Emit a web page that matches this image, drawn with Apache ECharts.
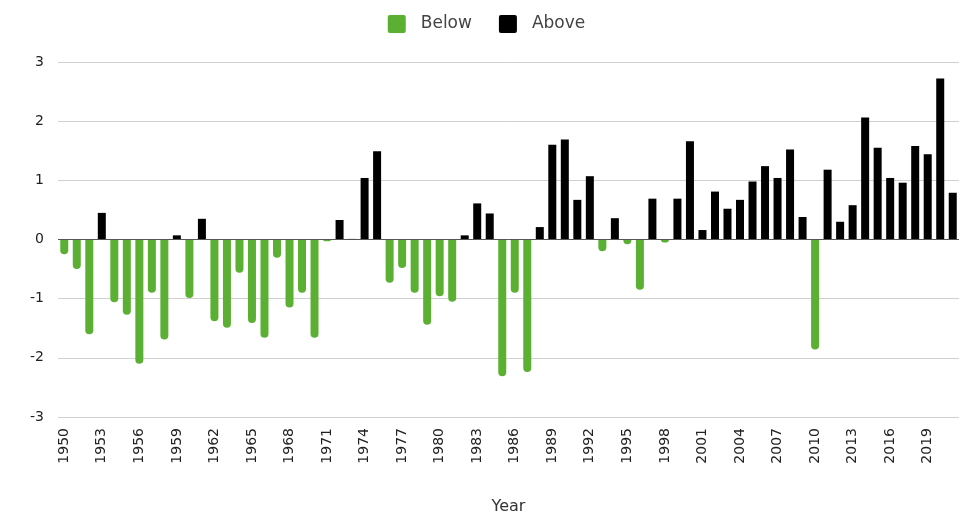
<!DOCTYPE html>
<html>
<head>
<meta charset="utf-8">
<script src="https://cdn.jsdelivr.net/npm/echarts@6/dist/echarts.min.js"></script>
<style>html,body{margin:0;padding:0;background:#fff}#c{width:973px;height:520px}</style>
</head>
<body>
<div id="c"></div>
<script>
var years = [];
for (var y = 1950; y <= 2021; y++) years.push(String(y));
var values = [
-0.25,-0.5,-1.6,0.45,-1.06,-1.27,-2.1,-0.9,-1.69,0.07,
-0.99,0.35,-1.38,-1.49,-0.56,-1.41,-1.66,-0.31,-1.15,-0.9,
-1.66,-0.03,0.33,0.01,1.04,1.49,-0.73,-0.48,-0.9,-1.44,
-0.96,-1.05,0.07,0.61,0.44,-2.31,-0.9,-2.24,0.21,1.6,
1.69,0.67,1.07,-0.2,0.36,-0.08,-0.85,0.69,-0.05,0.69,
1.66,0.16,0.81,0.52,0.67,0.98,1.24,1.04,1.52,0.38,
-1.86,1.18,0.3,0.58,2.06,1.55,1.04,0.96,1.58,1.44,
2.72,0.79
];
var yTicks = [-3,-2,-1,0,1,2,3];
var below = values.map(function(v){return v < 0 ? v : null;});
var above = values.map(function(v){return v >= 0 ? v : null;});
var font = 'DejaVu Sans';
var chart = echarts.init(document.getElementById('c'));
chart.setOption({
  animation: false,
  textStyle: {fontFamily: font},
  legend: {
    top: 10, left: 'center', itemWidth: 18, itemHeight: 18, itemGap: 27,
    textStyle: {fontSize: 17, color: '#444', fontFamily: font, padding: [0,0,0,10]},
    data: [
      {name:'Below', icon:'path://M2,0 L16,0 Q18,0 18,2 L18,16 Q18,18 16,18 L2,18 Q0,18 0,16 L0,2 Q0,0 2,0 Z'},
      {name:'Above', icon:'path://M2,0 L16,0 Q18,0 18,2 L18,16 Q18,18 16,18 L2,18 Q0,18 0,16 L0,2 Q0,0 2,0 Z'}
    ]
  },
  grid: {left: 58, right: 14, top: 62, bottom: 102, containLabel: false},
  xAxis: {
    type: 'category', data: years,
    name: 'Year', nameLocation: 'middle', nameGap: 82,
    nameTextStyle: {fontSize: 16, color: '#333', fontFamily: font},
    axisLine: {show: false}, axisTick: {show: false},
    axisLabel: {interval: 2, rotate: 90, fontSize: 14, color: '#222', margin: 11, fontFamily: font}
  },
  yAxis: {
    type: 'value', min: yTicks[0], max: yTicks[yTicks.length-1], interval: 1,
    axisLine: {show: false}, axisTick: {show: false},
    axisLabel: {fontSize: 14, color: '#222', margin: 14, fontFamily: font},
    splitLine: {lineStyle: {color: '#d0d0d0', width: 1}}
  },
  series: [
    {name: 'Below', type: 'bar', data: below, barWidth: 8, barGap: '-100%',
     itemStyle: {color: '#5bb033', borderRadius: [0,0,4,4]},
     markLine: {silent: true, symbol: 'none', label: {show: false},
       lineStyle: {color: '#555', width: 1, type: 'solid'}, data: [{yAxis: 0}]}},
    {name: 'Above', type: 'bar', data: above, barWidth: 8,
     itemStyle: {color: '#000'}}
  ]
});
</script>
</body>
</html>
